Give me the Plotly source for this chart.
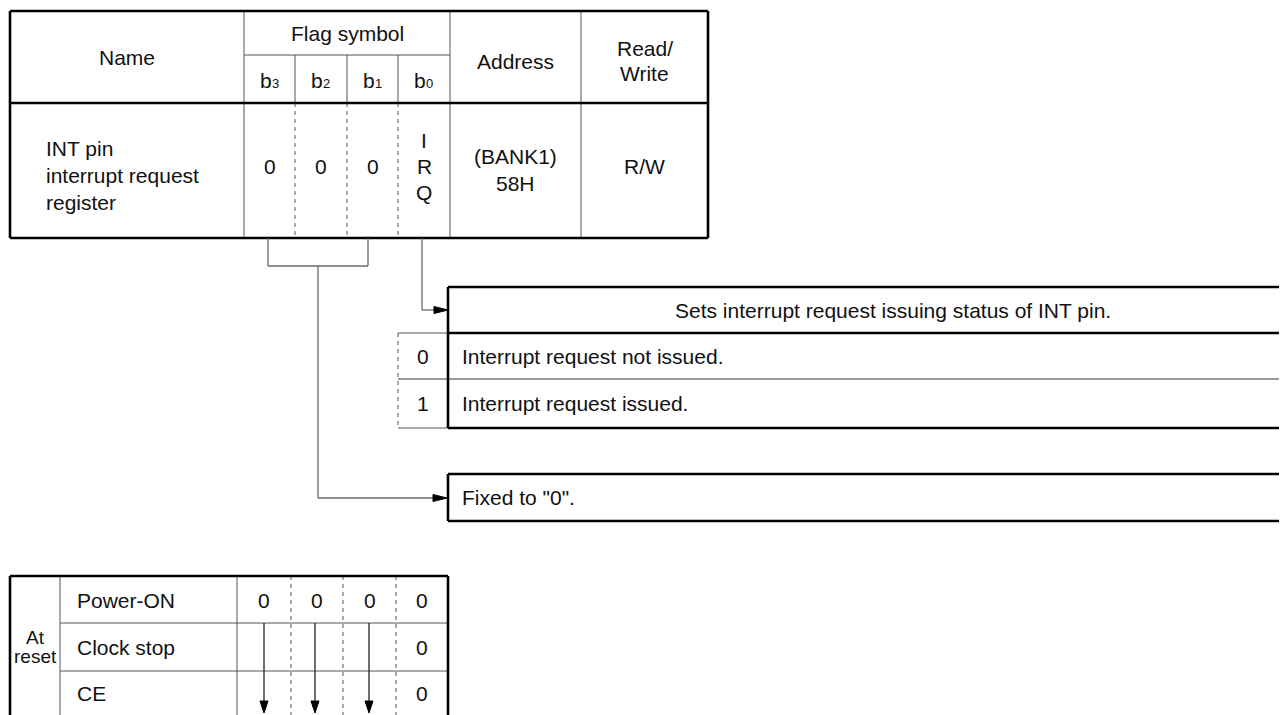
import plotly.graph_objects as go

# ---------------- data (texts) ----------------
header_name = "Name"
header_flag = "Flag symbol"
bit_letter = "b"
bit_digits = ["3", "2", "1", "0"]
header_address = "Address"
header_rw = ["Read/", "Write"]
register_name = ["INT pin", "interrupt request", "register"]
bit_values = ["0", "0", "0"]
irq_letters = ["I", "R", "Q"]
address_lines = ["(BANK1)", "58H"]
rw_value = "R/W"
irq_title = "Sets interrupt request issuing status of INT pin."
irq_codes = ["0", "1"]
irq_desc = ["Interrupt request not issued.", "Interrupt request issued."]
fixed_desc = 'Fixed to "0".'
reset_group = ["At", "reset"]
reset_rows = ["Power-ON", "Clock stop", "CE"]
reset_poweron = ["0", "0", "0", "0"]
reset_b0 = ["0", "0", "0"]

# ---------------- layout geometry ----------------
W, H = 1287, 715
OFF = 8  # page body margin
FONT = "Liberation Sans, Arial, Helvetica, sans-serif"
FS = 21
BLACK = "#000000"
GRAY = "#555555"
CONN = "#6a6a6a"

shapes = []
annotations = []


def line(x0, y0, x1, y1, w=1.0, c=GRAY, dash="solid"):
    shapes.append(dict(type="line", xref="x", yref="y", x0=x0, y0=y0, x1=x1, y1=y1,
                       line=dict(color=c, width=w, dash=dash), layer="above"))


def tri(path, c=BLACK):
    shapes.append(dict(type="path", xref="x", yref="y", path=path,
                       fillcolor=c, line=dict(color=c, width=1), layer="above"))


def text(x, y, s, size=FS, anchor="center", color="#111111"):
    annotations.append(dict(x=x, y=y, xref="x", yref="y", text=s, showarrow=False,
                            xanchor=anchor, yanchor="middle",
                            font=dict(family=FONT, size=size, color=color)))


# ---- top register table ----
L, R, T, B = 10, 708, 11, 238
HB = 103  # header bottom
FL = 55   # flag symbol line
cols = [244, 295, 347, 398, 450]
addr_r = 581
thick = 2.6

line(cols[0], T, cols[0], B)
line(cols[-1], T, cols[-1], B)
line(addr_r, T, addr_r, B)
line(cols[0], FL, cols[-1], FL)
for cx in cols[1:-1]:
    line(cx, FL, cx, HB)
    line(cx, HB, cx, B, dash="4px,4px")
line(L, T, R, T, thick, BLACK)
line(L, B, R, B, thick, BLACK)
line(L, T, L, B, thick, BLACK)
line(R, T, R, B, thick, BLACK)
line(L, HB, R, HB, thick, BLACK)

text((L + cols[0]) / 2, 57, header_name)
text((cols[0] + cols[-1]) / 2, 33, header_flag)
for i, d in enumerate(bit_digits):
    cx = (cols[i] + cols[i + 1]) / 2 + 3
    text(cx + 1, 80, bit_letter, anchor="right")
    text(cx - 3, 83, d, size=13, anchor="left")
text((cols[-1] + addr_r) / 2, 61, header_address)
text((addr_r + R) / 2, 48, header_rw[0])
text((addr_r + R) / 2, 73, header_rw[1])

for k, s in enumerate(register_name):
    text(44, 148 + 27 * k, s, anchor="left")
for i, v in enumerate(bit_values):
    text((cols[i] + cols[i + 1]) / 2, 166, v)
for k, s in enumerate(irq_letters):
    text((cols[3] + cols[4]) / 2, 140 + 26 * k, s)
for k, s in enumerate(address_lines):
    text((cols[-1] + addr_r) / 2, 156 + 27 * k, s)
text((addr_r + R) / 2, 166, rw_value)

# ---- connectors ----
bl, br, bb = 268, 368, 266
line(bl, B, bl, bb, 1.3, CONN)
line(bl, bb, br, bb, 1.3, CONN)
line(br, bb, br, B, 1.3, CONN)
mid = 318
fixed_y = 498
line(mid, bb, mid, fixed_y, 1.3, CONN)
line(mid, fixed_y, 436, fixed_y, 1.3, CONN)
tri(f"M 433 {fixed_y-3.5} L 447 {fixed_y} L 433 {fixed_y+3.5} Z")

irq_x, irq_y = 422, 310
line(irq_x, B, irq_x, irq_y, 1.3, CONN)
line(irq_x, irq_y, 436, irq_y, 1.3, CONN)
tri(f"M 434 {irq_y-3.5} L 448 {irq_y} L 434 {irq_y+3.5} Z")

# ---- IRQ description table ----
SL, SR = 448, 1300
st, sh, sm, sb = 287, 333, 379, 428
cl = 398
line(cl, sh, SL, sh, 1.0, GRAY)
line(cl, sm, SR, sm, 1.6, "#777777")
line(cl, sb, SL, sb, 1.0, GRAY)
line(cl, sh, cl, sb, 1.0, GRAY, dash="4px,4px")
line(SL, st, SR, st, thick, BLACK)
line(SL, sh, SR, sh, thick, BLACK)
line(SL, sb, SR, sb, thick, BLACK)
line(SL, st, SL, sb, thick, BLACK)

text(893, (st + sh) / 2, irq_title)
rows_y = [(sh + sm) / 2, (sm + sb) / 2]
for k in range(2):
    text((cl + SL) / 2, rows_y[k], irq_codes[k])
    text(460, rows_y[k], irq_desc[k], anchor="left")

# ---- fixed box ----
ft, fb = 474, 521
line(SL, ft, SR, ft, thick, BLACK)
line(SL, fb, SR, fb, thick, BLACK)
line(SL, ft, SL, fb, thick, BLACK)
text(460, (ft + fb) / 2, fixed_desc, anchor="left")

# ---- reset table ----
RL, RR, RT, RB = 10, 448, 576, 730
rcol = [237, 291, 343, 396, 448]
grp = 60
rrow = [576, 623, 671, 716]
line(grp, RT, grp, RB)
line(rcol[0], RT, rcol[0], RB)
for yy in rrow[1:3]:
    line(grp, yy, RR, yy)
for cx in rcol[1:-1]:
    line(cx, RT, cx, RB, dash="4px,4px")
line(RL, RT, RR, RT, thick, BLACK)
line(RL, RT, RL, RB, thick, BLACK)
line(RR, RT, RR, RB, thick, BLACK)

text(35, 637, reset_group[0], size=19)
text(35, 656, reset_group[1], size=19)
row_c = [600, 647, 693]
for k, s in enumerate(reset_rows):
    text(75, row_c[k], s, anchor="left")
for i, v in enumerate(reset_poweron):
    text((rcol[i] + rcol[i + 1]) / 2, row_c[0], v)
for k in (1, 2):
    text((rcol[3] + rcol[4]) / 2, row_c[k], reset_b0[k])
arrow_x = [264, 315, 369]
for ax in arrow_x:
    line(ax, rrow[1], ax, 703, 1.3, "#222222")
    tri(f"M {ax-4} 701 L {ax} 713 L {ax+4} 701 Z")

fig = go.Figure()
fig.add_trace(go.Scatter(x=[OFF + 1], y=[OFF + 1], mode="markers", marker=dict(opacity=0),
                         hoverinfo="skip", showlegend=False))
fig.update_layout(
    width=W - OFF, height=H - OFF, margin=dict(l=0, r=0, t=0, b=0),
    paper_bgcolor="white", plot_bgcolor="white",
    xaxis=dict(range=[OFF, W], visible=False, fixedrange=True),
    yaxis=dict(range=[H, OFF], visible=False, fixedrange=True),
    shapes=shapes, annotations=annotations, showlegend=False,
)
fig.write_html("out.html")
